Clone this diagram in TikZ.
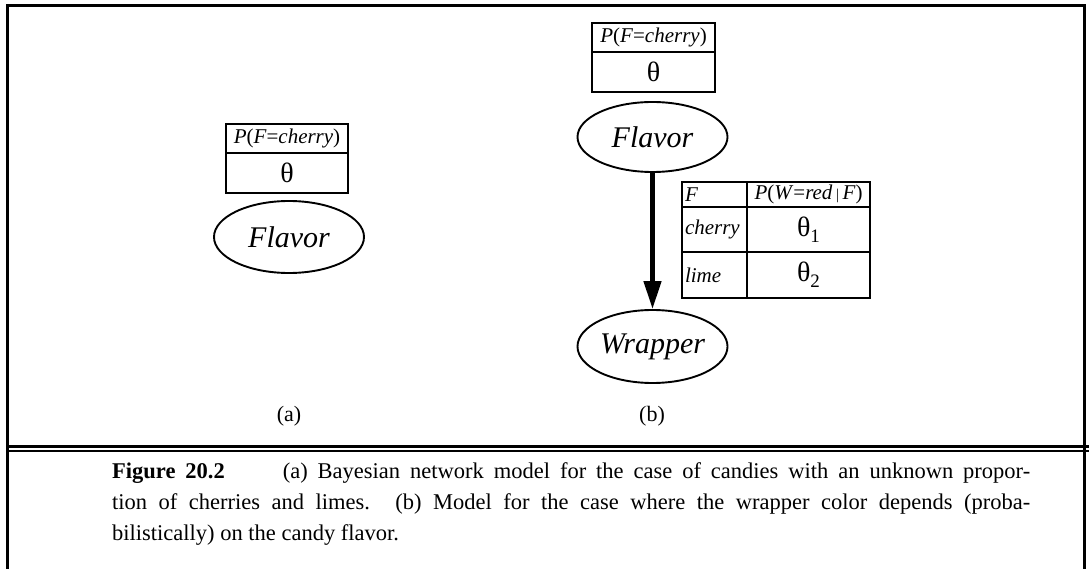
\documentclass[tikz,border=0pt]{standalone}
\usepackage{fontspec}
\setmainfont{Liberation Serif}
\usetikzlibrary{shapes.geometric,arrows.meta}
\tikzset{
  frameline/.style={line width=3pt},
  cell/.style={draw, line width=1.1pt, rectangle, inner sep=0pt, anchor=center},
  lcell/.style={draw, line width=1.1pt, rectangle, inner xsep=3pt, inner ysep=0pt, align=left},
  varnode/.style={draw, line width=1.9pt, ellipse, inner sep=0pt, font=\fontsize{30}{30}\selectfont\itshape},
  tabtext/.style={font=\fontsize{21}{21}\selectfont},
  thetatext/.style={font=\fontsize{28}{28}\selectfont},
  sublabel/.style={font=\fontsize{22}{22}\selectfont},
  bigarrow/.style={line width=4.5pt, -{Triangle[width=17pt,length=28pt]}}
}
\begin{document}
\begin{tikzpicture}[x=1pt,y=-1pt]
\useasboundingbox (0,0) rectangle (1089,569);
% frame
\draw[frameline] (7,569) -- (7,6) -- (1084,6) -- (1084,569);
\draw[line width=3pt] (7,446) -- (1089,446);
\draw[line width=2pt] (7,451) -- (1089,451);

% (a)
\node[cell, tabtext, minimum width=122pt, minimum height=29pt] (ah) at (287,138.5) {\textit{P}(\textit{F}=\textit{cherry})};
\node[cell, thetatext, minimum width=122pt, minimum height=40pt] (ab) at (287,173) {θ};
\node[varnode, minimum width=150pt, minimum height=72pt] (af) at (289,237) {Flavor};
\node[sublabel] (la) at (289,416) {(a)};

% (b)
\node[cell, tabtext, minimum width=123pt, minimum height=29pt] (bh) at (653.5,37.5) {\textit{P}(\textit{F}=\textit{cherry})};
\node[cell, thetatext, minimum width=123pt, minimum height=40pt] (bb) at (653.5,72) {θ};
\node[varnode, minimum width=150pt, minimum height=70pt] (bf) at (652.5,137) {Flavor};
\node[varnode, minimum width=150pt, minimum height=73pt] (bw) at (652.5,346.5) {Wrapper};
\draw[bigarrow] (bf.south) -- (bw.north);
\node[sublabel] (lb) at (652,416) {(b)};

% CPT
\node[lcell, tabtext, text width=59pt, minimum height=25pt] (c11) at (714.5,194.5) {\textit{F}};
\node[cell, tabtext, minimum width=123pt, minimum height=25pt] (c12) at (808.5,194.5) {\textit{P}(\textit{W}=\textit{red}\,{\fontsize{15}{15}\selectfont|}\,\textit{F})};
\node[lcell, tabtext, text width=59pt, minimum height=45pt] (c21) at (714.5,229.5) {\textit{cherry}};
\node[cell, thetatext, minimum width=123pt, minimum height=45pt] (c22) at (808.5,229.5) {θ\raisebox{-6pt}{\fontsize{19}{19}\selectfont 1}};
\node[lcell, tabtext, text width=59pt, minimum height=46pt] (c31) at (714.5,275) {\textit{lime}};
\node[cell, thetatext, minimum width=123pt, minimum height=46pt] (c32) at (808.5,275) {θ\raisebox{-6pt}{\fontsize{19}{19}\selectfont 2}};

% caption
\node[anchor=base west, inner sep=0pt, text width=918pt, align=justify, font=\fontsize{22.5}{31}\selectfont] (cap) at (112,478)
{\textbf{Figure 20.2}\hspace{58pt}(a) Bayesian network model for the case of candies with an unknown propor-\linebreak tion of cherries and limes. (b) Model for the case where the wrapper color depends (proba-\linebreak bilistically) on the candy flavor.};
\end{tikzpicture}
\end{document}
